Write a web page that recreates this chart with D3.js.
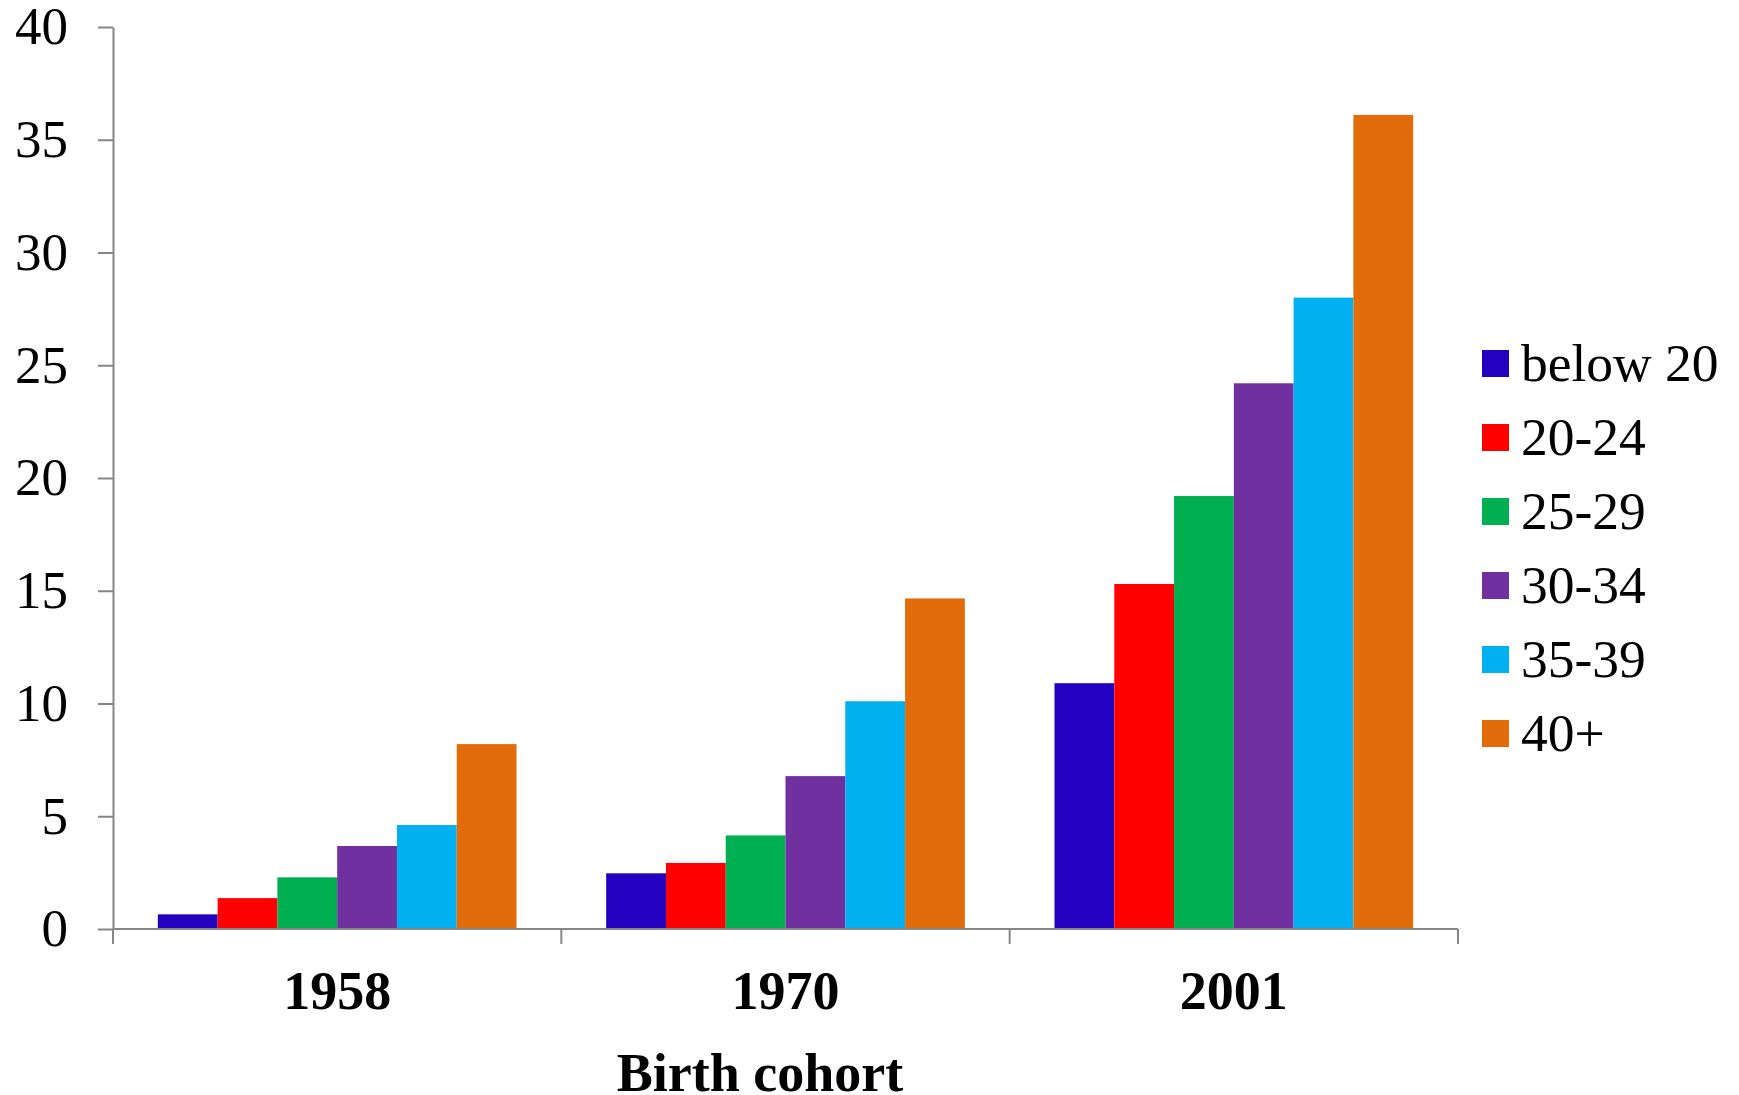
<!DOCTYPE html>
<html>
<head>
<meta charset="utf-8">
<script src="https://cdn.jsdelivr.net/npm/d3@7"></script>
<style>
  html, body { margin: 0; padding: 0; background: #fff; }
  svg { display: block; }
  text { font-family: "Liberation Serif", "Times New Roman", serif; fill: #000; }
</style>
</head>
<body>
<svg id="chart" width="1739" height="1095"></svg>
<script>
const categories = ["1958", "1970", "2001"];
const seriesNames = ["below 20", "20-24", "25-29", "30-34", "35-39", "40+"];
const seriesColors = ["#2400c0", "#ff0000", "#00b050", "#7030a0", "#00b0f0", "#e36c0a"];
const values_below20 = [0.65, 2.47, 10.9];
const values_20_24 = [1.37, 2.93, 15.3];
const values_25_29 = [2.29, 4.15, 19.2];
const values_30_34 = [3.68, 6.78, 24.2];
const values_35_39 = [4.61, 10.1, 28.0];
const values_40plus = [8.2, 14.66, 36.1];
const yTicks = [0, 5, 10, 15, 20, 25, 30, 35, 40];
const xTitle = "Birth cohort";

const seriesValues = [values_below20, values_20_24, values_25_29, values_30_34, values_35_39, values_40plus];

const svg = d3.select("#chart");
const plotLeft = 113, plotRight = 1458, plotTop = 27, plotBottom = 929;
const axisColor = "#868686";

const x = d3.scaleBand().domain(categories).range([plotLeft, plotRight]).padding(0);
const bw = x.bandwidth();
const xInner = d3.scaleBand().domain(seriesNames).range([bw * 0.1, bw * 0.9]).padding(0);
const y = d3.scaleLinear().domain([0, 40]).range([plotBottom, plotTop]);

// bars
const groups = svg.append("g").selectAll("g")
  .data(categories)
  .join("g")
  .attr("transform", c => `translate(${x(c)},0)`);

groups.selectAll("rect")
  .data((c, ci) => seriesNames.map((s, si) => ({ s, si, v: seriesValues[si][ci] })))
  .join("rect")
  .attr("x", d => xInner(d.s))
  .attr("width", xInner.bandwidth())
  .attr("y", d => y(d.v))
  .attr("height", d => y(0) - y(d.v))
  .attr("fill", d => seriesColors[d.si]);

// y axis
const yAxis = svg.append("g")
  .attr("transform", `translate(${plotLeft},0)`)
  .call(d3.axisLeft(y).tickValues(yTicks).tickSize(15).tickSizeOuter(0).tickPadding(30).tickFormat(d3.format("d")));
yAxis.select(".domain").attr("stroke", axisColor).attr("stroke-width", 2);
yAxis.selectAll(".tick line").attr("stroke", axisColor).attr("stroke-width", 2);
yAxis.selectAll(".tick text")
  .attr("font-family", "Liberation Serif, Times New Roman, serif")
  .attr("font-size", 53)
  .attr("fill", "#000");

// x axis line and boundary ticks
const xAxis = svg.append("g");
xAxis.append("line")
  .attr("x1", plotLeft).attr("x2", plotRight)
  .attr("y1", y(0)).attr("y2", y(0))
  .attr("stroke", axisColor).attr("stroke-width", 2);
const bounds = categories.map(c => x(c)).concat([x(categories[categories.length - 1]) + bw]);
xAxis.selectAll("line.bt")
  .data(bounds)
  .join("line")
  .attr("class", "bt")
  .attr("x1", d => d).attr("x2", d => d)
  .attr("y1", y(0)).attr("y2", y(0) + 15)
  .attr("stroke", axisColor).attr("stroke-width", 2);
xAxis.selectAll("text.cat")
  .data(categories)
  .join("text")
  .attr("class", "cat")
  .attr("x", c => x(c) + bw / 2)
  .attr("y", 1009)
  .attr("text-anchor", "middle")
  .attr("font-size", 54)
  .attr("font-weight", "bold")
  .text(c => c);

svg.append("text")
  .attr("x", 760)
  .attr("y", 1091)
  .attr("text-anchor", "middle")
  .attr("font-size", 54)
  .attr("font-weight", "bold")
  .text(xTitle);

// legend
const legend = svg.append("g").attr("transform", "translate(1482,350)");
const items = legend.selectAll("g")
  .data(seriesNames)
  .join("g")
  .attr("transform", (d, i) => `translate(0,${i * 74})`);
items.append("rect")
  .attr("width", 27).attr("height", 27)
  .attr("fill", (d, i) => seriesColors[i]);
items.append("text")
  .attr("x", 39)
  .attr("y", 31)
  .attr("font-size", 53.5)
  .text(d => d);
</script>
</body>
</html>
